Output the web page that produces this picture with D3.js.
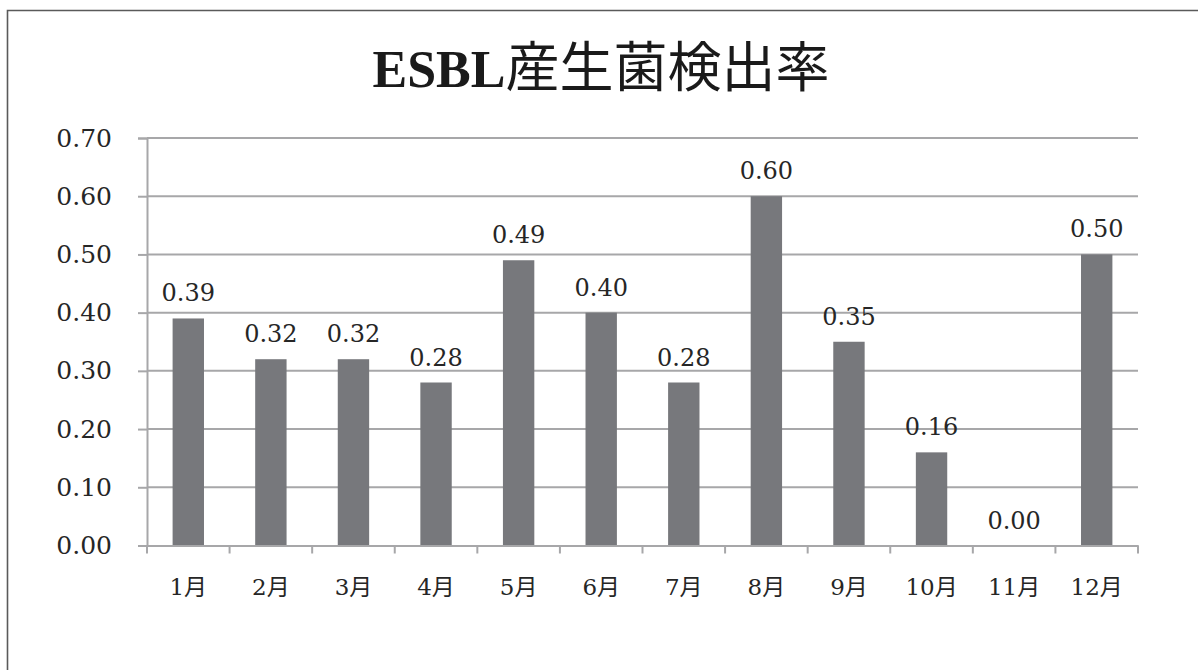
<!DOCTYPE html>
<html>
<head>
<meta charset="utf-8">
<script src="https://cdn.jsdelivr.net/npm/d3@7"></script>
<style>
  html, body { margin: 0; padding: 0; background: #fff; }
  svg { display: block; }
</style>
</head>
<body>
<svg id="chart" width="1198" height="670"></svg>
<script>
// Monthly ESBL-producing organism detection rate
const months = ["1月","2月","3月","4月","5月","6月","7月","8月","9月","10月","11月","12月"];
const rates = [0.39, 0.32, 0.32, 0.28, 0.49, 0.40, 0.28, 0.60, 0.35, 0.16, 0.00, 0.50];
const yTicks = [0, 0.1, 0.2, 0.3, 0.4, 0.5, 0.6, 0.7];
const titleText = "ESBL産生菌検出率";

const svg = d3.select("#chart");
const W = 1198, H = 670;
const margin = { left: 147, right: W - 1138, top: 138, bottom: H - 545.5 };

const numFont = "'DejaVu Serif', 'Liberation Serif', serif";
const mixFont = "'DejaVu Serif', 'Noto Sans CJK JP', serif";
const gridColor = "#a7a7a9";
const barColor = "#77787c";
const textColor = "#262626";

// outer frame (top and left edges fall inside the canvas)
svg.append("path")
  .attr("d", `M7.5,${H} L7.5,10.5 L${W},10.5`)
  .attr("fill", "none")
  .attr("stroke", "#5a5a5a")
  .attr("stroke-width", 1.6);

// title: Latin part in bold serif, Japanese part in CJK face
svg.append("text")
  .attr("x", 601)
  .attr("y", 87)
  .attr("text-anchor", "middle")
  .attr("fill", "#1a1a1a")
  .selectAll("tspan")
  .data([
    { t: titleText.slice(0, 4), f: "'Liberation Serif', serif", w: "bold", s: 52 },
    { t: titleText.slice(4), f: "'Noto Sans CJK JP', sans-serif", w: 400, s: 54 }
  ])
  .join("tspan")
  .attr("font-family", d => d.f)
  .attr("font-weight", d => d.w)
  .attr("font-size", d => d.s)
  .text(d => d.t);

const x = d3.scaleBand()
  .domain(months)
  .range([margin.left, W - margin.right])
  .padding(0);

const y = d3.scaleLinear()
  .domain([0, 0.7])
  .range([H - margin.bottom, margin.top]);

// horizontal gridlines
svg.append("g")
  .selectAll("line")
  .data(yTicks.slice(1))
  .join("line")
  .attr("x1", margin.left)
  .attr("x2", W - margin.right)
  .attr("y1", d => y(d))
  .attr("y2", d => y(d))
  .attr("stroke", gridColor)
  .attr("stroke-width", 2);

// bars
const barW = x.bandwidth() * 0.38;
svg.append("g")
  .selectAll("rect")
  .data(rates)
  .join("rect")
  .attr("x", (d, i) => x(months[i]) + (x.bandwidth() - barW) / 2)
  .attr("y", d => y(d))
  .attr("width", barW)
  .attr("height", d => y(0) - y(d))
  .attr("fill", barColor);

// y axis
const yAxis = svg.append("g")
  .attr("transform", `translate(${margin.left},0)`)
  .call(d3.axisLeft(y).tickValues(yTicks).tickFormat(d3.format(".2f")).tickSize(9).tickPadding(26));
yAxis.select(".domain").attr("stroke", gridColor).attr("stroke-width", 2);
yAxis.selectAll(".tick line").attr("stroke", gridColor).attr("stroke-width", 2);
yAxis.selectAll(".tick text")
  .attr("font-family", numFont)
  .attr("font-size", 25)
  .attr("fill", textColor);

// x axis
const xAxis = svg.append("g")
  .attr("transform", `translate(0,${y(0)})`)
  .call(d3.axisBottom(x).tickSize(0).tickPadding(33));
xAxis.select(".domain").attr("stroke", gridColor).attr("stroke-width", 2);
xAxis.selectAll(".tick text")
  .attr("font-family", mixFont)
  .attr("font-size", 23)
  .attr("fill", textColor);

// category boundary ticks below the axis
const bounds = months.map(m => x(m)).concat([x(months[months.length - 1]) + x.bandwidth()]);
svg.append("g")
  .selectAll("line")
  .data(bounds)
  .join("line")
  .attr("x1", d => d)
  .attr("x2", d => d)
  .attr("y1", y(0))
  .attr("y2", y(0) + 8)
  .attr("stroke", gridColor)
  .attr("stroke-width", 2);

// value labels
svg.append("g")
  .selectAll("text")
  .data(rates)
  .join("text")
  .attr("x", (d, i) => x(months[i]) + x.bandwidth() / 2)
  .attr("y", d => y(d) - 17)
  .attr("text-anchor", "middle")
  .attr("font-family", numFont)
  .attr("font-size", 24)
  .attr("fill", textColor)
  .text(d => d3.format(".2f")(d));
</script>
</body>
</html>
